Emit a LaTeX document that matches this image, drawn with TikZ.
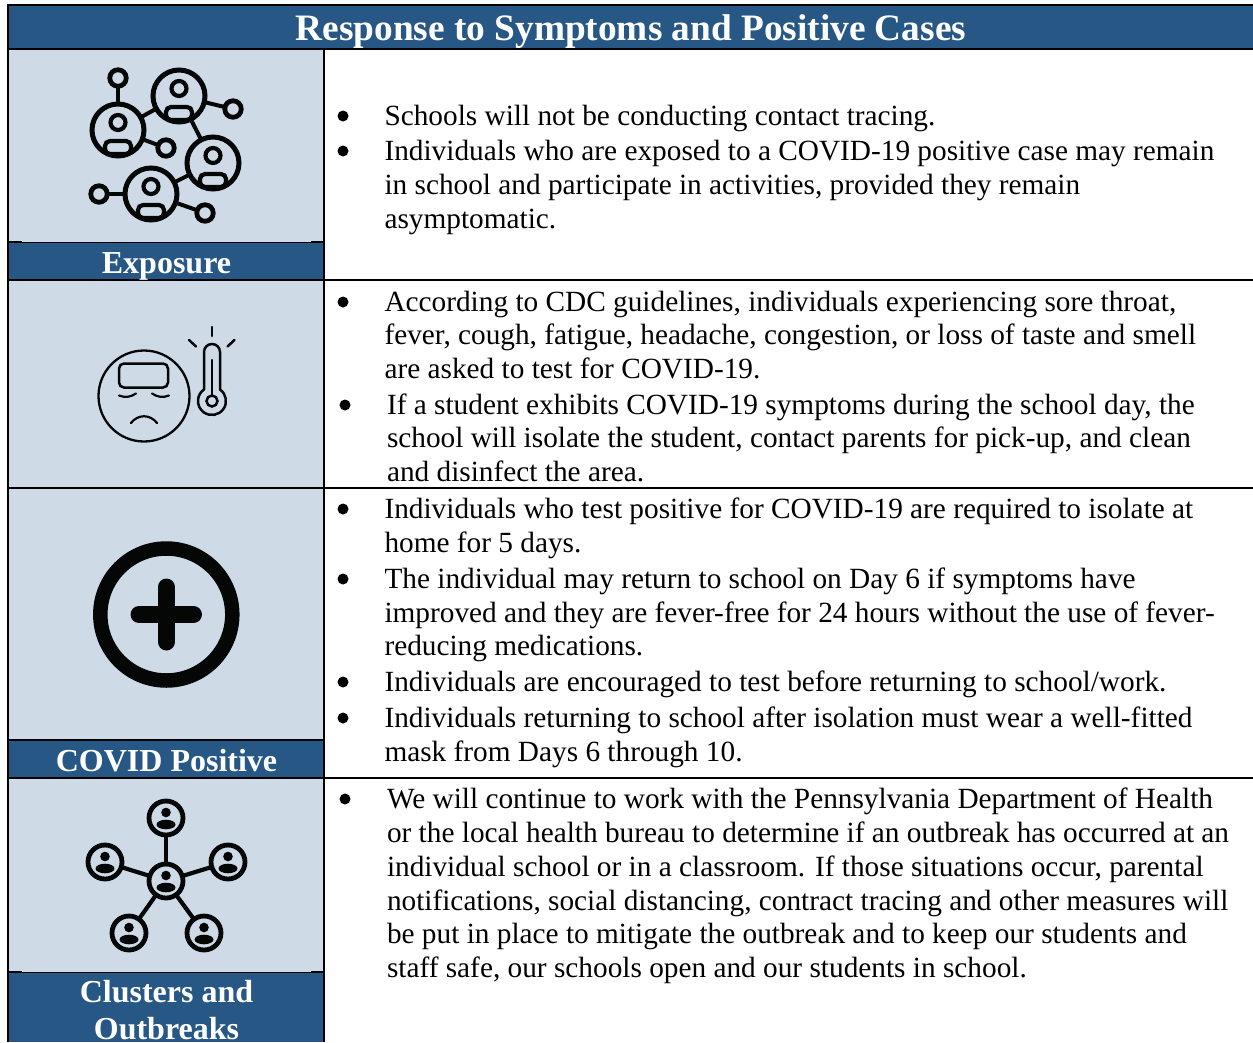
\documentclass[tikz,border=0pt]{standalone}
\usepackage{fontspec}
\setmainfont{Liberation Serif}
\definecolor{hdr}{HTML}{275785}
\definecolor{cellb}{HTML}{CEDBE7}
\definecolor{ink}{HTML}{050707}
\tikzset{
  x=1pt,y=-1pt,
  body/.style={anchor=base west,inner sep=0pt,outer sep=0pt,text=black,font=\fontsize{29.3}{34}\selectfont},
  bandtxt/.style={anchor=base,inner sep=0pt,text=white,font=\fontsize{32}{36}\bfseries\selectfont},
  titletxt/.style={anchor=base,inner sep=0pt,text=white,font=\fontsize{37.3}{40}\bfseries\selectfont},
  dotb/.style={circle,fill=black,inner sep=0pt,minimum size=11pt},
  rule/.style={line width=1.8pt,black},
  thin rule/.style={line width=1pt,black},
  bigc/.style={circle,draw=ink,line width=5pt,inner sep=0pt,outer sep=0pt,minimum size=52pt},
  smallc/.style={circle,draw=ink,line width=4.8pt,inner sep=0pt,outer sep=0pt,minimum size=16.5pt},
  link/.style={draw=ink,line width=4pt},
  hubc/.style={circle,draw=ink,line width=4.8pt,inner sep=0pt,outer sep=0pt,minimum size=34pt},
  spoke/.style={draw=ink,line width=4.2pt},
  fine/.style={draw=ink,line width=2.2pt,line cap=round},
}
% text line
\newcommand\tln[4]{\node[body] (#1) at (#2,#3) {#4};}
% person inside a big circle of the exposure icon
\newcommand\exposureperson[3]{%
  \node[bigc] (#1) at (#2,#3) {};
  \begin{scope}[shift={(#2,#3)}]
    \draw[draw=ink,line width=4.2pt] (0,-7.5) circle (7.5);
    \draw[draw=ink,line width=4.2pt,rounded corners=5] (-13,11) rectangle (13,24);
  \end{scope}}
% person inside a circle of the cluster icon
\newcommand\clusterperson[3]{%
  \node[hubc] (#1) at (#2,#3) {};
  \fill[ink] (#2,#3-5.5) circle (4.8);
  \fill[ink] (#2,#3+6.5) ellipse (9.5 and 4.8);}
\begin{document}
\begin{tikzpicture}
\useasboundingbox (0,0) rectangle (1253,1042);
\fill[white] (0,0) rectangle (1253,1042);
% fills
\fill[hdr] (8,5) rectangle (1253,49);
\fill[cellb] (8,49) rectangle (324,1042);
\fill[hdr] (8,242) rectangle (324,280);
\fill[hdr] (8,740) rectangle (324,778);
\fill[hdr] (8,972) rectangle (324,1042);
% rules
\draw[rule] (7.4,5) -- (1253,5);
\draw[rule] (8,5) -- (8,1042);
\draw[rule] (323.6,49) -- (323.6,1042);
\draw[rule] (8,49) -- (1253,49);
\draw[rule] (8,280) -- (1253,280);
\draw[rule] (8,488) -- (1253,488);
\draw[rule] (8,778) -- (1253,778);
\draw[rule] (8,740) -- (324,740);
\draw[thin rule] (22,242) -- (311,242);
\draw[rule] (8,242) -- (22,242) (311,242) -- (324,242);
\draw[thin rule] (22,972) -- (311,972);
\draw[rule] (8,972) -- (22,972) (311,972) -- (324,972);
% title and bands
\node[titletxt] (title) at (631,40) {Response to Symptoms and Positive Cases};
\node[bandtxt] (exposure) at (166.5,273) {Exposure};
\node[bandtxt] (positive) at (166.5,771) {COVID Positive};
\node[bandtxt] (clusters) at (166.5,1002) {Clusters and};
\node[bandtxt] (outbreaks) at (166.5,1039) {Outbreaks};
% exposure icon
\exposureperson{ea}{118}{130}
\exposureperson{eb}{179}{96}
\exposureperson{ec}{213}{163}
\exposureperson{ed}{151}{194}
\node[smallc] (sa) at (118,78) {};
\node[smallc] (sb) at (233,109) {};
\node[smallc] (sc) at (166,148) {};
\node[smallc] (sd) at (99,194) {};
\node[smallc] (se) at (205,213) {};
\draw[link] (sa) -- (ea);
\draw[link] (ea) -- (eb);
\draw[link] (eb) -- (sb);
\draw[link] (eb) -- (ec);
\draw[link] (ea) -- (sc);
\draw[link] (ec) -- (ed);
\draw[link] (sd) -- (ed);
\draw[link] (ed) -- (se);
% symptom icon
\node[circle,draw=ink,line width=2.3pt,inner sep=0pt,minimum size=91pt] (face) at (144,396) {};
\draw[fine,line width=2.5pt,rounded corners=5] (119,363.5) rectangle (168,387.5);
\draw[fine] (119,395.5) .. controls (125,398) and (131,397) .. (136,393.5);
\draw[fine] (152,393.5) .. controls (157,397) and (163,398) .. (169,395.5);
\draw[fine] (131,423) .. controls (138,414) and (150,414) .. (157,423);
\draw[fine,line width=2.5pt] (204,389.5) -- (204,352) arc[start angle=180,end angle=360,radius=8] -- (220,389.5) arc[start angle=-55,end angle=235,radius=14];
\node[circle,draw=ink,line width=2.5pt,inner sep=0pt,minimum size=11pt] (bulb) at (212,401) {};
\draw[fine,line width=2.5pt] (bulb) -- (212,360);
\draw[fine,line width=2.5pt] (212,327) -- (212,336);
\draw[fine,line width=2.5pt] (189,340) -- (196,346.5);
\draw[fine,line width=2.5pt] (234.5,340) -- (227.5,346.5);
% plus icon
\node[circle,draw=ink,line width=14.5pt,inner sep=0pt,minimum size=132pt] (ring) at (166.3,614.5) {};
\draw[ink,line width=17pt,line cap=round] (139,614.5) -- (193.5,614.5);
\draw[ink,line width=17pt,line cap=round] (166.3,587) -- (166.3,642);
% cluster icon
\clusterperson{hub}{166}{881}
\clusterperson{top}{166}{818}
\clusterperson{lft}{105}{862}
\clusterperson{rgt}{228}{862}
\clusterperson{bl}{129}{933}
\clusterperson{br}{204}{933}
\draw[spoke] (hub) -- (top);
\draw[spoke] (hub) -- (lft);
\draw[spoke] (hub) -- (rgt);
\draw[spoke] (hub) -- (bl);
\draw[spoke] (hub) -- (br);
% bullets
\node[dotb] (b1) at (343,116) {};
\node[dotb] (b2) at (343,151) {};
\node[dotb] (b3) at (343,302) {};
\node[dotb] (b4) at (345,405) {};
\node[dotb] (b5) at (343,509) {};
\node[dotb] (b6) at (343,579) {};
\node[dotb] (b7) at (343,682) {};
\node[dotb] (b8) at (343,718) {};
\node[dotb] (b9) at (345,799) {};
% text
\tln{t1}{384.5}{125}{Schools will not be conducting contact tracing.}
\tln{t2}{384.5}{160}{Individuals who are exposed to a COVID-19 positive case may remain}
\tln{t3}{384.5}{194}{in school and participate in activities, provided they remain}
\tln{t4}{384.5}{228}{asymptomatic.}
\tln{t5}{384.5}{311}{According to CDC guidelines, individuals experiencing sore throat,}
\tln{t6}{384.5}{344}{fever, cough, fatigue, headache, congestion, or loss of taste and smell}
\tln{t7}{384.5}{378}{are asked to test for COVID-19.}
\tln{t8}{387}{414}{If a student exhibits COVID-19 symptoms during the school day, the}
\tln{t9}{387}{447}{school will isolate the student, contact parents for pick-up, and clean}
\tln{t10}{387}{481}{and disinfect the area.}
\tln{t11}{384.5}{518}{Individuals who test positive for COVID-19 are required to isolate at}
\tln{t12}{384.5}{552}{home for 5 days.}
\tln{t13}{384.5}{588}{The individual may return to school on Day 6 if symptoms have}
\tln{t14}{384.5}{622}{improved and they are fever-free for 24 hours without the use of fever-}
\tln{t15}{384.5}{655}{reducing medications.}
\tln{t16}{384.5}{691}{Individuals are encouraged to test before returning to school/work.}
\tln{t17}{384.5}{727}{Individuals returning to school after isolation must wear a well-fitted}
\tln{t18}{384.5}{761}{mask from Days 6 through 10.}
\tln{t19}{387}{808}{We will continue to work with the Pennsylvania Department of Health}
\tln{t20}{387}{842}{or the local health bureau to determine if an outbreak has occurred at an}
\tln{t21}{387}{876}{individual school or in a classroom. If those situations occur, parental}
\tln{t22}{387}{910}{notifications, social distancing, contract tracing and other measures will}
\tln{t23}{387}{943}{be put in place to mitigate the outbreak and to keep our students and}
\tln{t24}{387}{977}{staff safe, our schools open and our students in school.}
\end{tikzpicture}
\end{document}
